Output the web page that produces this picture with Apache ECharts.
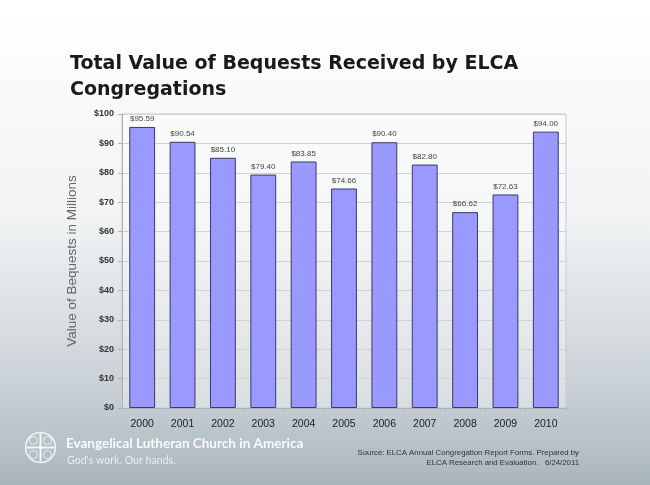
<!DOCTYPE html>
<html>
<head>
<meta charset="utf-8">
<script src="https://cdn.jsdelivr.net/npm/echarts@6/dist/echarts.min.js"></script>
<style>
  html, body { margin: 0; padding: 0; }
  #chart { width: 650px; height: 485px; }
</style>
</head>
<body>
<div id="chart"></div>
<script>
// chart data
const years = ['2000', '2001', '2002', '2003', '2004', '2005', '2006', '2007', '2008', '2009', '2010']
const bequests = [95.59, 90.54, 85.10, 79.40, 83.85, 74.66, 90.40, 82.80, 66.62, 72.63, 94.00]

const chart = echarts.init(document.getElementById('chart'))

chart.setOption({
  animation: false,
  backgroundColor: {
    type: 'linear', x: 0, y: 0, x2: 0, y2: 1,
    colorStops: [
      { offset: 0, color: '#ffffff' },
      { offset: 0.45, color: '#f1f3f4' },
      { offset: 0.8, color: '#c9d1d6' },
      { offset: 1, color: '#a9b5bd' }
    ]
  },
  title: {
    text: 'Total Value of Bequests Received by ELCA\nCongregations',
    left: 65,
    top: 46,
    textStyle: {
      fontFamily: 'DejaVu Sans',
      fontWeight: 'bold',
      fontSize: 19,
      lineHeight: 26,
      color: '#1a1a1a'
    }
  },
  grid: {
    left: 122,
    right: 84,
    top: 114,
    bottom: 77,
    show: true,
    backgroundColor: 'rgba(255,255,255,0.35)',
    borderColor: '#c8c8c8',
    borderWidth: 1
  },
  xAxis: {
    type: 'category',
    data: years,
    axisLine: { lineStyle: { color: '#b0b0b0' } },
    axisTick: { show: true, length: 3, lineStyle: { color: '#b0b0b0' } },
    axisLabel: {
      color: '#222',
      fontFamily: 'Liberation Sans',
      fontSize: 10.5,
      margin: 11
    }
  },
  yAxis: {
    type: 'value',
    min: 0,
    max: 100,
    interval: 10,
    name: 'Value of Bequests in Millions',
    nameLocation: 'middle',
    nameGap: 43,
    nameTextStyle: { color: '#666', fontFamily: 'Liberation Sans', fontSize: 13.5 },
    axisLine: { show: true, lineStyle: { color: '#b0b0b0' } },
    axisTick: { show: true, length: 4, lineStyle: { color: '#b0b0b0' } },
    axisLabel: {
      color: '#333',
      fontFamily: 'Liberation Sans',
      fontSize: 9,
      fontWeight: 'bold',
      margin: 8,
      formatter: v => '$' + v
    },
    splitLine: { lineStyle: { color: '#d2d2d2' } }
  },
  series: [
    {
      type: 'bar',
      data: bequests,
      barWidth: '64%',
      itemStyle: { color: '#9999ff', borderColor: '#3a3a6a', borderWidth: 1 },
      label: {
        show: true,
        position: 'top',
        distance: 4,
        color: '#444',
        fontFamily: 'Liberation Sans',
        fontSize: 8,
        formatter: p => '$' + p.value.toFixed(2)
      }
    }
  ],
  graphic: [
    // logo mark
    {
      type: 'group',
      left: 23,
      top: 430,
      children: [
        { type: 'circle', shape: { cx: 16, cy: 16, r: 15 }, style: { fill: 'none', stroke: 'rgba(255,255,255,0.8)', lineWidth: 1.5 } },
        { type: 'line', shape: { x1: 16, y1: 2, x2: 16, y2: 30 }, style: { stroke: 'rgba(255,255,255,0.85)', lineWidth: 2 } },
        { type: 'line', shape: { x1: 2, y1: 16, x2: 30, y2: 16 }, style: { stroke: 'rgba(255,255,255,0.85)', lineWidth: 2 } },
        { type: 'circle', shape: { cx: 9, cy: 9, r: 4 }, style: { fill: 'none', stroke: 'rgba(255,255,255,0.7)', lineWidth: 1 } },
        { type: 'circle', shape: { cx: 23, cy: 9, r: 4 }, style: { fill: 'none', stroke: 'rgba(255,255,255,0.7)', lineWidth: 1 } },
        { type: 'circle', shape: { cx: 9, cy: 23, r: 4 }, style: { fill: 'none', stroke: 'rgba(255,255,255,0.7)', lineWidth: 1 } },
        { type: 'circle', shape: { cx: 23, cy: 23, r: 4 }, style: { fill: 'none', stroke: 'rgba(255,255,255,0.7)', lineWidth: 1 } }
      ]
    },
    {
      type: 'text',
      left: 66,
      top: 437,
      style: {
        text: 'Evangelical Lutheran Church in America',
        fill: 'rgba(255,255,255,0.92)',
        font: 'bold 13.5px Lato'
      }
    },
    {
      type: 'text',
      left: 67,
      top: 455,
      style: {
        text: "God's work. Our hands.",
        fill: 'rgba(255,255,255,0.75)',
        font: '10.6px Lato'
      }
    },
    {
      type: 'text',
      right: 71,
      top: 449,
      style: {
        text: 'Source: ELCA Annual Congregation Report Forms. Prepared by',
        fill: '#333',
        font: '7.8px "Liberation Sans"'
      }
    },
    {
      type: 'text',
      right: 71,
      top: 459,
      style: {
        text: 'ELCA Research and Evaluation.   6/24/2011',
        fill: '#333',
        font: '7.8px "Liberation Sans"'
      }
    }
  ]
})
</script>
</body>
</html>
